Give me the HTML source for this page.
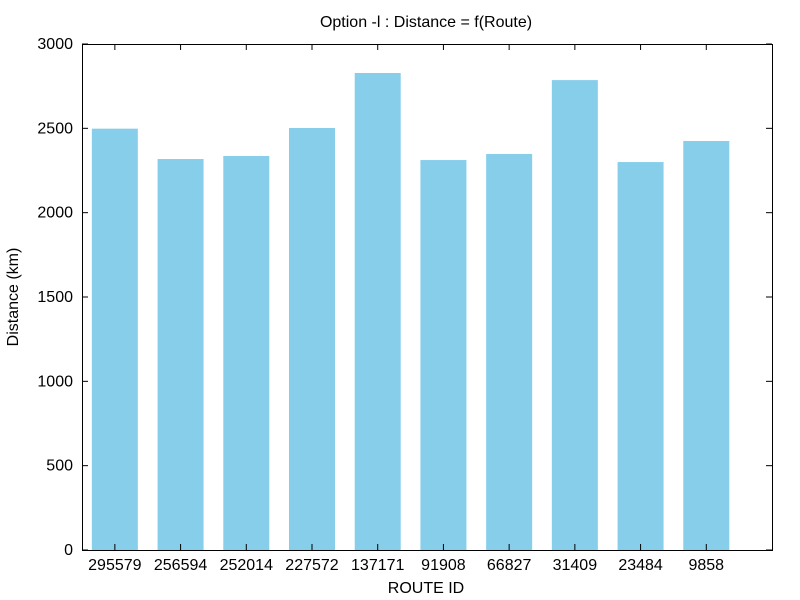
<!DOCTYPE html>
<html><head><meta charset="utf-8"><style>body{margin:0;background:#fff}svg{display:block}text{font-family:"Liberation Sans",sans-serif;font-size:16px;fill:#000}</style></head>
<body>
<svg id="chart" width="800" height="600">
<text x="426" y="27" text-anchor="middle">Option -l : Distance = f(Route)</text>
<text x="426" y="593" text-anchor="middle">ROUTE ID</text>
<text transform="translate(18,297) rotate(-90)" text-anchor="middle">Distance (km)</text>
<g id="bars"></g><g id="axes"></g>
</svg>
<script>
const categories=["295579","256594","252014","227572","137171","91908","66827","31409","23484","9858"];
const distances=[2498,2318,2336,2502,2828,2312,2348,2786,2300,2425];
const yTicks=[0,500,1000,1500,2000,2500,3000];
const L=82,R=772,T=44,B=550,yMax=3000;
const xs=i=>L+(i+0.5)*(R-L)/10.5;
const ys=v=>B-v/yMax*(B-T);
const ns="http://www.w3.org/2000/svg";
const bars=document.getElementById('bars'),axes=document.getElementById('axes');
const bw=0.7*(R-L)/10.5;
function mk(tag,attrs,parent){const e=document.createElementNS(ns,tag);for(const k in attrs)e.setAttribute(k,attrs[k]);parent.appendChild(e);return e;}
distances.forEach((d,i)=>{
 const r=mk('rect',{x:xs(i)-bw/2,y:ys(d),width:bw,height:B-ys(d),fill:'#87ceeb'},bars);
 
 
 const t=mk('text',{x:xs(i),y:B+20,'text-anchor':'middle'},axes);t.textContent=categories[i];
 
 
 mk('line',{x1:xs(i),x2:xs(i),y1:B,y2:B-6,stroke:'#000'},axes);
 mk('line',{x1:xs(i),x2:xs(i),y1:T,y2:T+6,stroke:'#000'},axes);
});
yTicks.forEach(v=>{
 const y=ys(v);
 mk('line',{x1:L,x2:L+6,y1:y,y2:y,stroke:'#000'},axes);
 mk('line',{x1:R,x2:R-6,y1:y,y2:y,stroke:'#000'},axes);
 const t=mk('text',{x:L-9,y:y+5,'text-anchor':'end'},axes);t.textContent=v;
 
 
});
const f=mk('rect',{x:L+0.5,y:T+0.5,width:R-L,height:B-T,fill:'none',stroke:'#000'},axes);


</script>
</body></html>
